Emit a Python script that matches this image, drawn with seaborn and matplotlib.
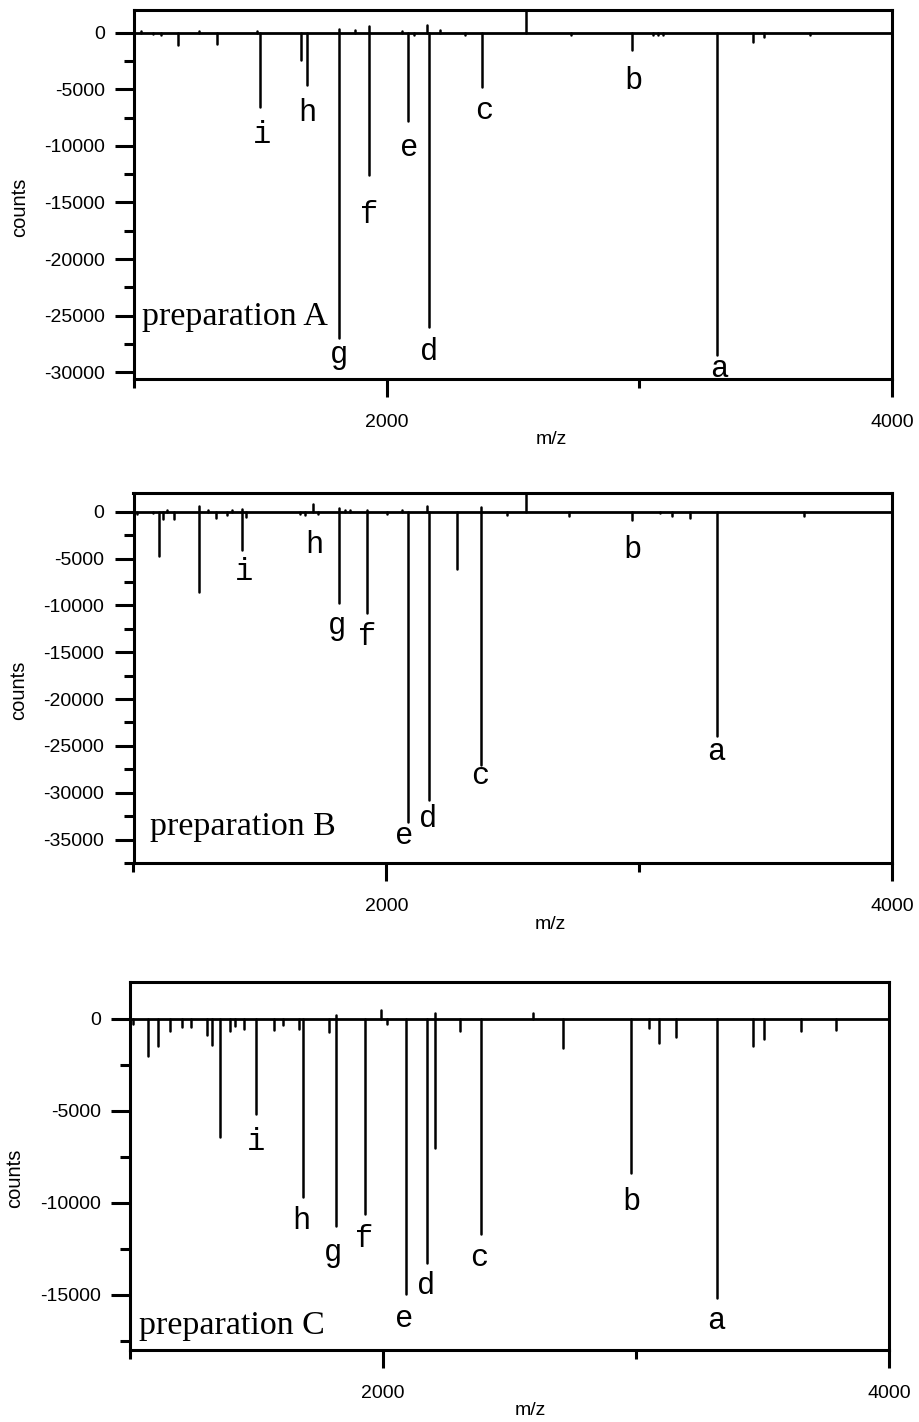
import numpy as np
import pandas as pd
import matplotlib
matplotlib.use("Agg")
import matplotlib.pyplot as plt
import seaborn as sns

# ---------------- data (m/z, counts) ----------------
prepA_mz = [1028, 1074, 1107, 1173, 1259, 1327, 1486, 1499, 1661, 1686,
            1813, 1813, 1875, 1929, 1929, 2060, 2083, 2107, 2160, 2169,
            2210, 2309, 2378, 2550, 2731, 2972, 3053, 3073, 3093, 3309,
            3448, 3492, 3675]
prepA_counts = [150, -150, -200, -1120, 150, -970, 150, -6580, -2440, -4670,
                -27000, 350, 200, -12600, 550, 150, -7850, -250, 640, -26000,
                200, -250, -4800, 4000, -250, -1560, -250, -200, -200, -28500,
                -800, -350, -200]

prepB_mz = [1013, 1078, 1102, 1118, 1131, 1160, 1260, 1260, 1296, 1325,
            1369, 1389, 1428, 1428, 1445, 1659, 1679, 1709, 1731, 1814,
            1814, 1837, 1857, 1923, 1923, 2002, 2061, 2087, 2160, 2169,
            2279, 2375, 2375, 2477, 2552, 2723, 2973, 3084, 3131, 3203,
            3308, 3653]
prepB_counts = [-200, -150, -4740, -780, 200, -780, -8620, 580, 150, -700,
                -300, 200, -4100, 300, -600, -200, -300, 800, -250, -9730,
                400, 150, 150, -10860, 200, -200, 200, -33140, 600, -30820,
                -6160, -27080, 500, -400, 4000, -500, -900, -150, -500, -700,
                -23900, -500]

prepC_mz = [1013, 1072, 1110, 1159, 1205, 1242, 1304, 1326, 1357, 1396,
            1416, 1449, 1499, 1571, 1604, 1667, 1684, 1786, 1816, 1816,
            1927, 1994, 2017, 2090, 2172, 2206, 2206, 2305, 2387, 2592,
            2711, 2979, 3050, 3091, 3157, 3319, 3464, 3506, 3653, 3790]
prepC_counts = [-290, -2040, -1460, -650, -420, -420, -870, -1410, -6420, -650,
                -400, -560, -5170, -600, -350, -560, -9690, -740, -11260, 220,
                -10620, 490, -300, -14960, -13250, -7010, 300, -690, -11710, 300,
                -1590, -8400, -510, -1290, -1010, -15180, -1460, -1080, -690, -600]

peak_letters = ["a", "b", "c", "d", "e", "f", "g", "h", "i"]
panel_names = ["preparation A", "preparation B", "preparation C"]

x_ticks_major = [2000, 4000]
x_ticks_minor = [1000, 3000]

# ---------------- layout (label anchor positions, axes limits) ----------------
labelsA_mz = [3316, 2975, 2385, 2170, 2088, 1929, 1813, 1686, 1505]
labelsA_y = [-30460, -4940, -7670, -28900, -10910, -16790, -29200, -7800, -9740]
labelsB_mz = [3304, 2974, 2371, 2167, 2071, 1926, 1804, 1715, 1438]
labelsB_y = [-26540, -4990, -29040, -33670, -35520, -14250, -13080, -4450, -7300]
labelsC_mz = [3317, 2981, 2381, 2170, 2082, 1927, 1804, 1676, 1499]
labelsC_y = [-16860, -10410, -13430, -14960, -16770, -12380, -13150, -11440, -7150]

panels = [
    dict(mz=prepA_mz, counts=prepA_counts, lmz=labelsA_mz, ly=labelsA_y,
         name=panel_names[0], name_pos=(1030, -25820),
         ylim=(-30600, 2000), ymin_tick=-30000,
         rect=[134 / 919, 1 - 379 / 1422, 758 / 919, 369 / 1422],
         xlabel_x=0.551),
    dict(mz=prepB_mz, counts=prepB_counts, lmz=labelsB_mz, ly=labelsB_y,
         name=panel_names[1], name_pos=(1065, -34560),
         ylim=(-37500, 2000), ymin_tick=-37500,
         rect=[133.5 / 919, 1 - 863 / 1422, 758.5 / 919, 370 / 1422],
         xlabel_x=0.550),
    dict(mz=prepC_mz, counts=prepC_counts, lmz=labelsC_mz, ly=labelsC_y,
         name=panel_names[2], name_pos=(1037, -17130),
         ylim=(-18000, 2000), ymin_tick=-17500,
         rect=[130 / 919, 1 - 1350 / 1422, 759 / 919, 368 / 1422],
         xlabel_x=0.527),
]

sns.set_theme(style="white")
plt.rcParams["font.family"] = ["Liberation Sans", "DejaVu Sans"]
plt.rcParams["axes.unicode_minus"] = False

fig = plt.figure(figsize=(9.19, 14.22), dpi=100)

for p in panels:
    ax = fig.add_axes(p["rect"])
    n = len(p["mz"])
    df = pd.DataFrame({
        "mz": np.repeat(np.asarray(p["mz"], float), 2),
        "counts": np.column_stack([np.zeros(n), np.asarray(p["counts"], float)]).ravel(),
        "pid": np.repeat(np.arange(n), 2),
    })
    sns.lineplot(data=df, x="mz", y="counts", units="pid", estimator=None,
                 color="black", lw=1.8, sort=False, legend=False, ax=ax)
    ax.axhline(0, color="black", lw=2.0, zorder=3)

    ax.set_xlim(1000, 4000)
    ax.set_ylim(*p["ylim"])

    # y ticks
    ymaj = [v for v in range(0, p["ymin_tick"] - 1, -5000) if v >= p["ylim"][0]]
    ymin = [v for v in range(-2500, p["ymin_tick"] - 1, -5000) if v >= p["ylim"][0]]
    ax.set_yticks(ymaj)
    ax.set_yticklabels([str(v) for v in ymaj])
    ax.set_yticks(ymin, minor=True)
    ax.set_xticks(x_ticks_major)
    ax.set_xticklabels([str(v) for v in x_ticks_major])
    ax.set_xticks(x_ticks_minor, minor=True)

    ax.tick_params(axis="y", which="major", left=True, length=14, width=2.2,
                   direction="out", pad=7, labelsize=14, color="black",
                   labelcolor="black")
    ax.tick_params(axis="y", which="minor", left=True, length=7, width=2.2,
                   direction="out", color="black")
    ax.tick_params(axis="x", which="major", bottom=True, length=13, width=2.2,
                   direction="out", pad=12, labelsize=14, color="black",
                   labelcolor="black")
    ax.tick_params(axis="x", which="minor", bottom=True, length=6.5, width=2.2,
                   direction="out", color="black")

    for s in ax.spines.values():
        s.set_visible(True)
        s.set_color("black")
        s.set_linewidth(2.2)

    ax.set_ylabel("counts", fontsize=14.5, color="black")
    ax.yaxis.set_label_coords(-0.139, 0.466)
    ax.set_xlabel("m/z", fontsize=14, color="black")
    ax.xaxis.set_label_coords(p["xlabel_x"], -0.142)

    for letter, lx, ly in zip(peak_letters, p["lmz"], p["ly"]):
        ax.text(lx, ly, letter, ha="center", va="baseline",
                fontfamily="Liberation Mono", fontsize=22, color="black")
    ax.text(p["name_pos"][0], p["name_pos"][1], p["name"], ha="left",
            va="baseline", fontfamily="Liberation Serif", fontsize=24.5,
            color="black")

fig.savefig("out.png", dpi=100, facecolor="white")
